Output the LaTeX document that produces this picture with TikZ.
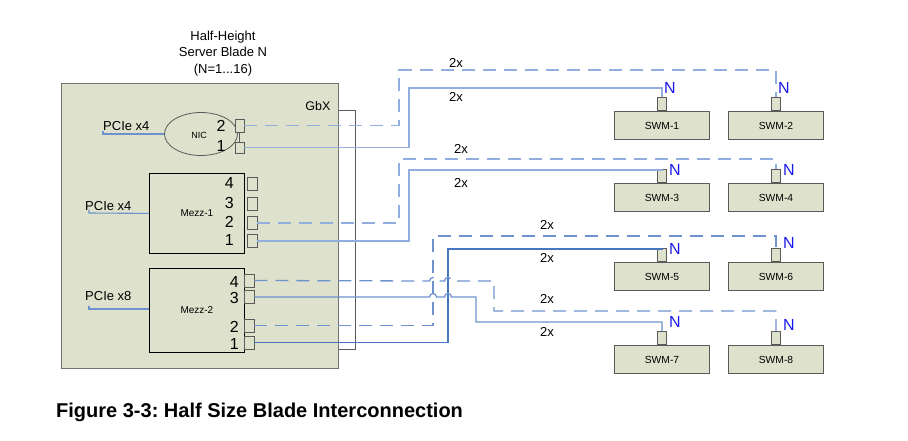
\documentclass[tikz,border=0pt]{standalone}
\usepackage{fontspec}
\setmainfont{Liberation Sans}
\usepackage{tikz}
\usetikzlibrary{shapes.geometric, positioning}
\frenchspacing

\definecolor{bladefill}{RGB}{222,225,203}
\definecolor{edgegray}{RGB}{90,90,90}
\definecolor{wirelt}{RGB}{145,174,220}
\definecolor{wiremd}{RGB}{110,146,206}
\definecolor{wiredk}{RGB}{72,118,192}
\definecolor{nblue}{RGB}{25,25,235}

\tikzset{
  blade/.style={draw=edgegray!85, line width=1.3pt, fill=bladefill, anchor=north west, inner sep=0pt},
  card/.style={draw=black, line width=0.8pt, fill=bladefill, anchor=north west, inner sep=0pt,
    font=\fontsize{10}{12}\selectfont},
  port/.style={draw=edgegray, line width=0.9pt, fill=bladefill, minimum width=10pt, minimum height=13pt, inner sep=0pt},
  swmbox/.style={draw=edgegray, line width=1pt, fill=bladefill, minimum width=95pt, minimum height=28pt,
    inner sep=0pt, anchor=north west, font=\fontsize{10.3}{12}\selectfont},
  wire/.style={draw=wirelt, line width=1.3pt},
  dwire/.style={wire, dash pattern=on 13pt off 8pt},
  pcie/.style={draw=wiremd, line width=1.1pt},
  num/.style={font=\fontsize{16}{18}\selectfont, inner sep=0pt},
  lbl/.style={font=\fontsize{13}{16.5}\selectfont, inner sep=0pt},
  nlab/.style={font=\fontsize{16}{18}\selectfont, text=nblue, inner sep=0pt},
}

\begin{document}
\begin{tikzpicture}[x=1pt, y=-1pt]
  \useasboundingbox (0,0) rectangle (908,440);

  % Lame et carte GbX
  \node[draw=edgegray, line width=1.1pt, fill=white, anchor=north east, minimum width=100pt,
    minimum height=239pt, inner sep=0pt] (gbx) at (356,110) {};
  \node[blade, minimum width=277pt, minimum height=285pt] (blade) at (61,83) {};
  \node[lbl, font=\fontsize{12.5}{14}\selectfont] (gbxlbl) at (318,106) {GbX};
  \node[lbl, align=center] (title) at (223,53.5) {Half-Height\\Server Blade N\\(N=1...16)};

  % NIC
  \node[ellipse, draw=edgegray, line width=0.8pt, fill=bladefill, minimum width=73pt, minimum height=43pt,
    inner sep=0pt] (nic) at (201,134) {};
  \node[font=\fontsize{9}{11}\selectfont] (niclbl) at (199,135.5) {NIC};
  \node[num] (nicn2) at (221,126) {2};
  \node[num] (nicn1) at (221,146) {1};
  \node[port, minimum width=9pt, minimum height=13pt] (nic2) at (239.5,125.5) {};
  \node[port, minimum width=9pt, minimum height=11pt] (nic1) at (239.5,147.5) {};
  \draw[edgegray, line width=0.8pt] (nic2.south) -- (nic1.north);
  \node[lbl, anchor=west] (pcienic) at (103,126) {PCIe x4};
  \draw[pcie] (103,130.5) -- (103,134) -- (nic.west);

  % Mezz-1 et Mezz-2
  \node[card, minimum width=95pt, minimum height=80pt] (mza) at (149,173) {Mezz-1};
  \node[card, minimum width=95pt, minimum height=84pt] (mzb) at (149,268) {Mezz-2};
  \foreach \i/\y in {4/184,3/203.5,2/223,1/241} {
    \node[port] (mza\i) at (252,\y) {};
    \node[num, anchor=east] (mzan\i) at (234,\y-1) {\i};
  }
  \foreach \i/\y in {4/280.5,3/297,2/325.5,1/342.5} {
    \node[port] (mzb\i) at (249,\y) {};
    \node[num, anchor=east] (mzbn\i) at (239,\y+1) {\i};
  }
  \node[lbl, anchor=west] (pciea) at (85,206) {PCIe x4};
  \node[lbl, anchor=west] (pcieb) at (85,296) {PCIe x8};
  \draw[pcie] (89,209.5) -- (89,213) -- (mza.west);
  \draw[pcie] (89,305.5) -- (89,309) -- (mzb.west |- 0,309);

  % Modules SWM
  \foreach \i/\x/\y in {1/614/111, 2/728/111, 3/614/183, 4/728/183, 5/614/262, 6/728/262, 7/614/345, 8/728/345} {
    \node[swmbox] (swm\i) at (\x,\y) {SWM-\i};
    \node[port, minimum width=9pt, anchor=south] (swmp\i) at (swm\i.north) {};
  }
  \foreach \i/\x/\y in {1/670/88, 2/784/88, 3/675/170, 4/789/170, 5/675/249, 6/789/243, 7/675/322, 8/789/325}
    \node[nlab] (n\i) at (\x,\y) {N};

  % Liaisons
  \draw[dwire] (nic2.east) -| (399,70) -| (swmp2.north);
  \draw[wire] (nic1.east) -| (409,88) -| (swmp1.north);
  \draw[dwire] (mza2.east) -| (399,159) -| (swmp4.north);
  \draw[wire] (mza1.east) -| (409,170) -| (swmp3.north);
  \draw[dwire, wiremd] (mzb2.east) -| (433,236) -| (swmp6.north);
  \draw[wire, wiredk] (mzb1.east) -| (448,249) -| (swmp5.north);
  \draw[dwire, wiremd] (mzb4.east) -- (429.5,281) arc[start angle=180, end angle=0, radius=3.5pt]
    -- (444.5,281) arc[start angle=180, end angle=0, radius=3.5pt] -- (494,281) -- (494,311) -| (swmp8.north);
  \draw[wire, wiremd] (mzb3.east) -- (429.5,297) arc[start angle=180, end angle=0, radius=3.5pt]
    -- (444.5,297) arc[start angle=180, end angle=0, radius=3.5pt] -- (476,297) -- (476,322) -| (swmp7.north);

  \foreach \x/\y [count=\k] in {456/63, 456/97, 461/149, 461/183, 547/225, 547/258, 547/299, 547/332}
    \node[lbl] (mult\k) at (\x,\y) {2x};

  \node[font=\bfseries\fontsize{20}{24}\selectfont, anchor=west, inner sep=0pt] (caption) at (56,412)
    {Figure 3-3: Half Size Blade Interconnection};
\end{tikzpicture}
\end{document}
